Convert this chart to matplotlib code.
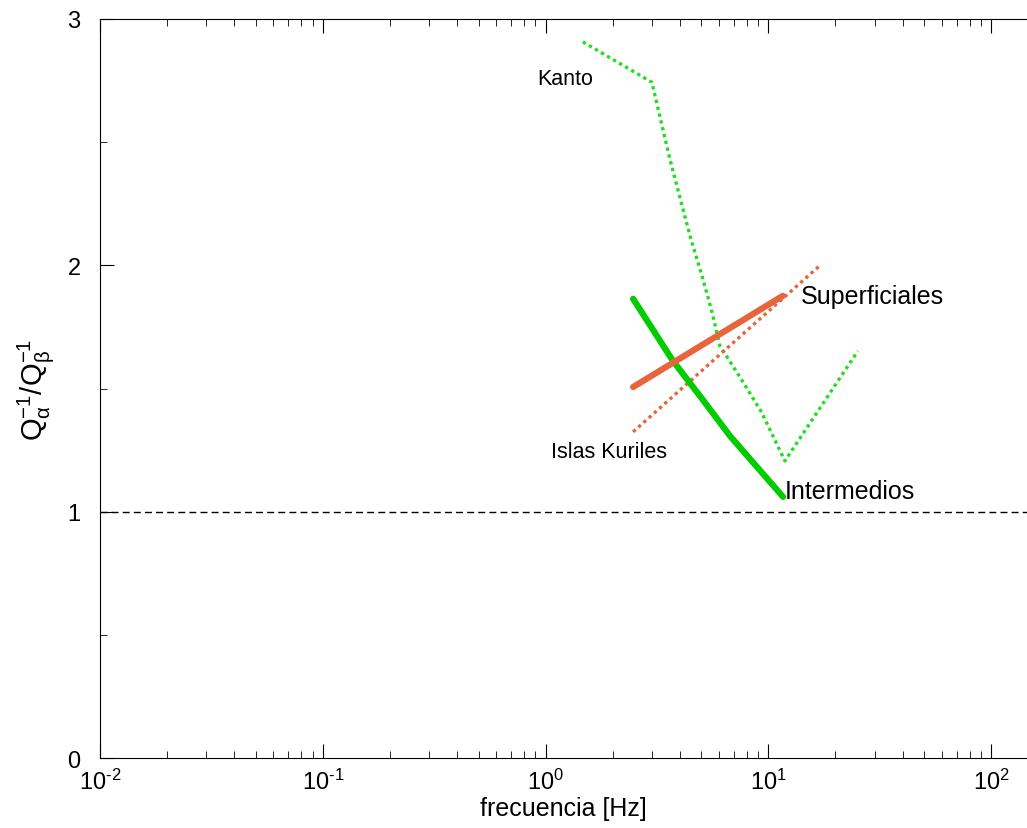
import numpy as np
import matplotlib
matplotlib.use("Agg")
import matplotlib.pyplot as plt
from matplotlib.ticker import FixedLocator, LogLocator, NullFormatter, FuncFormatter

plt.rcParams.update({"font.family": ["Liberation Sans", "DejaVu Sans"],
                     "mathtext.fontset": "custom",
                     "mathtext.rm": "Liberation Sans",
                     "mathtext.it": "Liberation Sans",
                     "mathtext.default": "regular"})

GREEN, ORANGE = "#00cc00", "#e8643c"

# ---- data ------------------------------------------------------------------
kanto_f = [1.47, 3.0, 3.61, 4.45, 5.08, 5.58, 6.06, 7.54, 9.3, 11.86, 25.2]
kanto_q = [2.907, 2.743, 2.432, 2.119, 1.945, 1.811, 1.673, 1.539, 1.405, 1.206, 1.652]

kuriles_f = [2.47, 17.06]
kuriles_q = [1.324, 2.0]

superf_f = [2.47, 11.6]
superf_q = [1.506, 1.876]

interm_f = [2.47, 3.73, 5.04, 6.73, 11.64]
interm_q = [1.864, 1.612, 1.458, 1.307, 1.060]

xticks = [1e-2, 1e-1, 1e0, 1e1, 1e2]
yticks = [0, 1, 2, 3]

fig = plt.figure(figsize=(10.27, 8.29), dpi=100)
ax = fig.add_axes([0.0974, 0.0844, 0.9026, 0.8915])

ax.plot(kanto_f, kanto_q, color="#22dd22", lw=2.4, ls=(0, (1, 1.1)))
ax.plot(kuriles_f, kuriles_q, color=ORANGE, lw=2.4, ls=(0, (1, 1.1)))
ax.plot(interm_f, interm_q, color=GREEN, lw=4.5, solid_capstyle="round")
ax.plot(superf_f, superf_q, color=ORANGE, lw=4.5, solid_capstyle="round")
ax.axhline(1, color="black", lw=1, ls=(0, (5, 3)))

ax.text(1.22, 2.757, "Kanto", fontsize=15.5, ha="center", va="center")
ax.text(1.93, 1.246, "Islas Kuriles", fontsize=15.5, ha="center", va="center")
ax.text(14.0, 1.876, "Superficiales", fontsize=18, ha="left", va="center")
ax.text(11.8, 1.085, "Intermedios", fontsize=18, ha="left", va="center")

ax.set_xscale("log")
ax.set_xlim(1e-2, 144.8)
ax.set_ylim(0, 3)
ax.xaxis.set_major_locator(FixedLocator(xticks))
ax.xaxis.set_minor_locator(LogLocator(base=10, subs=np.arange(2, 10)))
ax.xaxis.set_minor_formatter(NullFormatter())
ax.xaxis.set_major_formatter(FuncFormatter(lambda v, p: r"$10^{\text{%d}}$" % round(np.log10(v))))
ax.yaxis.set_major_locator(FixedLocator(yticks))
ax.yaxis.set_minor_locator(FixedLocator([0.5, 1.5, 2.5]))

ax.tick_params(which="both", direction="in", top=True, right=False, labelsize=17)
ax.tick_params(axis="x", pad=8)
ax.tick_params(axis="y", pad=14)
ax.tick_params(which="major", length=10)
ax.tick_params(which="minor", length=5)
ax.spines["right"].set_visible(False)

ax.set_xlabel("frecuencia [Hz]", fontsize=18, labelpad=1)
ax.set_ylabel(r"$Q_{\alpha}^{-1}/Q_{\beta}^{-1}$", fontsize=21, labelpad=8)

fig.savefig("out.png", dpi=100)
